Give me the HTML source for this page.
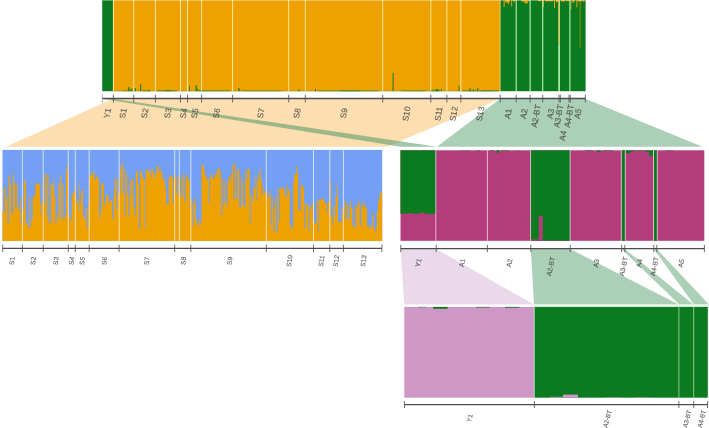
<!DOCTYPE html>
<html lang="en">
<head>
<meta charset="utf-8">
<title>Hierarchical STRUCTURE clustering plot</title>
<style>
html, body { margin: 0; padding: 0; background: #ffffff; }
body { width: 709px; height: 428px; overflow: hidden; }
svg { display: block; font-family: "Liberation Sans", sans-serif; }
</style>
</head>
<body>
<svg width="709" height="428" viewBox="0 0 709 428">
<rect x="0" y="0" width="709" height="428" fill="#ffffff"/>
<polygon points="113.10,98.70 500.20,98.70 387.00,146.80 6.00,146.80" fill="#F8B85A" fill-opacity="0.47"/>
<polygon points="102.20,98.70 113.10,98.70 437.00,146.80 400.60,146.80" fill="#479460" fill-opacity="0.52"/>
<polygon points="500.20,98.70 585.40,98.70 702.50,146.80 437.00,146.80" fill="#479460" fill-opacity="0.45"/>
<polygon points="400.70,249.00 436.20,249.00 534.00,304.60 404.20,304.60" fill="#C99AC9" fill-opacity="0.38"/>
<polygon points="530.80,249.00 570.20,249.00 678.70,304.60 534.00,304.60" fill="#479460" fill-opacity="0.45"/>
<polygon points="621.60,249.00 624.80,249.00 693.40,304.60 679.30,304.60" fill="#479460" fill-opacity="0.45"/>
<polygon points="653.80,249.00 656.80,249.00 709.00,304.60 694.00,304.60" fill="#479460" fill-opacity="0.45"/>
<rect x="102.20" y="0.00" width="10.90" height="91.20" fill="#0C7A1E"/>
<rect x="113.10" y="0.00" width="387.10" height="91.20" fill="#EDA202"/>
<rect x="500.00" y="0.00" width="85.60" height="91.20" fill="#0C7A1E"/>
<rect x="113.10" y="90.70" width="387.10" height="0.50" fill="#7d9015"/>
<rect x="122.50" y="90.40" width="3.00" height="0.80" fill="#5f8c1c"/>
<rect x="126.00" y="90.00" width="1.50" height="1.20" fill="#5f8c1c"/>
<rect x="128.20" y="87.20" width="1.20" height="4.00" fill="#0C7A1E"/>
<rect x="129.60" y="89.20" width="1.00" height="2.00" fill="#0C7A1E"/>
<rect x="131.40" y="88.20" width="1.00" height="3.00" fill="#0C7A1E"/>
<rect x="134.80" y="88.00" width="1.00" height="3.20" fill="#0C7A1E"/>
<rect x="140.20" y="84.20" width="1.00" height="7.00" fill="#0C7A1E"/>
<rect x="142.00" y="90.30" width="8.00" height="0.90" fill="#5f8c1c"/>
<rect x="148.00" y="89.90" width="2.00" height="1.30" fill="#5f8c1c"/>
<rect x="157.00" y="90.20" width="20.00" height="1.00" fill="#5f8c1c"/>
<rect x="165.00" y="89.70" width="6.00" height="1.50" fill="#5f8c1c"/>
<rect x="189.00" y="85.70" width="0.80" height="5.50" fill="#0C7A1E"/>
<rect x="195.60" y="85.20" width="1.20" height="6.00" fill="#0C7A1E"/>
<rect x="197.20" y="88.70" width="1.00" height="2.50" fill="#0C7A1E"/>
<rect x="199.00" y="90.00" width="6.00" height="1.20" fill="#5f8c1c"/>
<rect x="205.00" y="90.30" width="25.00" height="0.90" fill="#5f8c1c"/>
<rect x="238.40" y="88.00" width="1.20" height="3.20" fill="#0C7A1E"/>
<rect x="241.00" y="90.50" width="40.00" height="0.70" fill="#5f8c1c"/>
<rect x="298.50" y="89.20" width="1.00" height="2.00" fill="#0C7A1E"/>
<rect x="315.00" y="89.00" width="1.00" height="2.20" fill="#0C7A1E"/>
<rect x="318.00" y="90.40" width="60.00" height="0.80" fill="#5f8c1c"/>
<rect x="340.00" y="90.00" width="20.00" height="1.20" fill="#5f8c1c"/>
<rect x="392.60" y="72.80" width="1.00" height="18.40" fill="#0C7A1E"/>
<rect x="401.00" y="90.40" width="25.00" height="0.80" fill="#5f8c1c"/>
<rect x="430.00" y="89.80" width="10.00" height="1.40" fill="#5f8c1c"/>
<rect x="436.00" y="89.20" width="2.00" height="2.00" fill="#0C7A1E"/>
<rect x="441.00" y="89.00" width="1.00" height="2.20" fill="#0C7A1E"/>
<rect x="458.60" y="85.70" width="0.90" height="5.50" fill="#0C7A1E"/>
<rect x="462.00" y="90.40" width="30.00" height="0.80" fill="#5f8c1c"/>
<rect x="469.60" y="87.70" width="1.00" height="3.50" fill="#0C7A1E"/>
<rect x="473.00" y="89.20" width="1.00" height="2.00" fill="#0C7A1E"/>
<rect x="477.20" y="87.80" width="1.00" height="3.40" fill="#0C7A1E"/>
<rect x="481.00" y="90.20" width="18.00" height="1.00" fill="#5f8c1c"/>
<rect x="503.60" y="0.00" width="1.00" height="7.00" fill="#EDA202" fill-opacity="1"/>
<rect x="505.20" y="0.00" width="4.50" height="2.50" fill="#EDA202" fill-opacity="1"/>
<rect x="508.00" y="0.00" width="1.00" height="4.00" fill="#EDA202" fill-opacity="1"/>
<rect x="511.20" y="0.00" width="1.00" height="6.40" fill="#EDA202" fill-opacity="1"/>
<rect x="513.00" y="0.00" width="2.00" height="1.50" fill="#EDA202" fill-opacity="1"/>
<rect x="521.50" y="0.00" width="3.00" height="1.60" fill="#EDA202" fill-opacity="1"/>
<rect x="524.50" y="0.00" width="3.20" height="3.40" fill="#EDA202" fill-opacity="1"/>
<rect x="528.00" y="0.00" width="1.50" height="1.20" fill="#EDA202" fill-opacity="1"/>
<rect x="538.00" y="0.00" width="3.00" height="1.20" fill="#EDA202" fill-opacity="1"/>
<rect x="543.00" y="0.00" width="1.00" height="7.00" fill="#EDA202" fill-opacity="0.8"/>
<rect x="545.00" y="0.00" width="8.00" height="1.30" fill="#EDA202" fill-opacity="1"/>
<rect x="554.00" y="0.00" width="1.00" height="8.00" fill="#EDA202" fill-opacity="1"/>
<rect x="556.00" y="0.00" width="2.00" height="2.00" fill="#EDA202" fill-opacity="1"/>
<rect x="561.00" y="0.00" width="4.00" height="1.50" fill="#EDA202" fill-opacity="1"/>
<rect x="566.00" y="0.00" width="3.00" height="1.20" fill="#EDA202" fill-opacity="1"/>
<rect x="570.40" y="0.00" width="1.00" height="9.40" fill="#EDA202" fill-opacity="0.85"/>
<rect x="572.50" y="0.00" width="2.00" height="2.50" fill="#EDA202" fill-opacity="1"/>
<rect x="576.40" y="0.00" width="1.00" height="7.20" fill="#EDA202" fill-opacity="1"/>
<rect x="578.00" y="0.00" width="4.00" height="1.40" fill="#EDA202" fill-opacity="1"/>
<rect x="579.60" y="0.00" width="1.00" height="47.50" fill="#EDA202" fill-opacity="0.55"/>
<rect x="582.50" y="0.00" width="2.00" height="1.50" fill="#EDA202" fill-opacity="1"/>
<rect x="558.30" y="0.00" width="1.60" height="43.50" fill="#EBD873"/>
<rect x="558.30" y="43.50" width="1.60" height="47.70" fill="#B6F3B6"/>
<line x1="113.40" y1="0.00" x2="113.40" y2="91.20" stroke="#FFEFA8" stroke-width="0.9" stroke-opacity="1"/>
<line x1="133.70" y1="0.00" x2="133.70" y2="91.20" stroke="#FFEFA8" stroke-width="0.9" stroke-opacity="1"/>
<line x1="155.40" y1="0.00" x2="155.40" y2="91.20" stroke="#FFEFA8" stroke-width="0.9" stroke-opacity="1"/>
<line x1="180.50" y1="0.00" x2="180.50" y2="91.20" stroke="#FFEFA8" stroke-width="0.9" stroke-opacity="1"/>
<line x1="187.50" y1="0.00" x2="187.50" y2="91.20" stroke="#FFEFA8" stroke-width="0.9" stroke-opacity="1"/>
<line x1="201.60" y1="0.00" x2="201.60" y2="91.20" stroke="#FFEFA8" stroke-width="0.9" stroke-opacity="1"/>
<line x1="232.60" y1="0.00" x2="232.60" y2="91.20" stroke="#FFEFA8" stroke-width="0.9" stroke-opacity="1"/>
<line x1="288.70" y1="0.00" x2="288.70" y2="91.20" stroke="#FFEFA8" stroke-width="0.9" stroke-opacity="1"/>
<line x1="305.30" y1="0.00" x2="305.30" y2="91.20" stroke="#FFEFA8" stroke-width="0.9" stroke-opacity="1"/>
<line x1="382.70" y1="0.00" x2="382.70" y2="91.20" stroke="#FFEFA8" stroke-width="0.9" stroke-opacity="1"/>
<line x1="430.80" y1="0.00" x2="430.80" y2="91.20" stroke="#FFEFA8" stroke-width="0.9" stroke-opacity="1"/>
<line x1="446.90" y1="0.00" x2="446.90" y2="91.20" stroke="#FFEFA8" stroke-width="0.9" stroke-opacity="1"/>
<line x1="460.90" y1="0.00" x2="460.90" y2="91.20" stroke="#FFEFA8" stroke-width="0.9" stroke-opacity="1"/>
<line x1="500.20" y1="0.00" x2="500.20" y2="91.20" stroke="#F6E9A0" stroke-width="0.8" stroke-opacity="0.9"/>
<line x1="516.20" y1="0.00" x2="516.20" y2="91.20" stroke="#B6F3B6" stroke-width="1.1" stroke-opacity="1"/>
<line x1="530.10" y1="0.00" x2="530.10" y2="91.20" stroke="#B6F3B6" stroke-width="1.1" stroke-opacity="1"/>
<line x1="542.70" y1="0.00" x2="542.70" y2="91.20" stroke="#B6F3B6" stroke-width="1.1" stroke-opacity="1"/>
<line x1="569.90" y1="0.00" x2="569.90" y2="91.20" stroke="#B6F3B6" stroke-width="1.1" stroke-opacity="1"/>
<line x1="102.2" y1="0.5" x2="585.6" y2="0.5" stroke="#ffffff" stroke-width="1" stroke-opacity="0.35"/>
<line x1="102.20" y1="98.60" x2="585.40" y2="98.60" stroke="#4c4c4c" stroke-width="1.5"/>
<line x1="113.40" y1="94.70" x2="113.40" y2="102.50" stroke="#4c4c4c" stroke-width="0.8"/>
<line x1="133.70" y1="94.70" x2="133.70" y2="102.50" stroke="#4c4c4c" stroke-width="0.8"/>
<line x1="155.40" y1="94.70" x2="155.40" y2="102.50" stroke="#4c4c4c" stroke-width="0.8"/>
<line x1="180.50" y1="94.70" x2="180.50" y2="102.50" stroke="#4c4c4c" stroke-width="0.8"/>
<line x1="187.50" y1="94.70" x2="187.50" y2="102.50" stroke="#4c4c4c" stroke-width="0.8"/>
<line x1="201.60" y1="94.70" x2="201.60" y2="102.50" stroke="#4c4c4c" stroke-width="0.8"/>
<line x1="232.60" y1="94.70" x2="232.60" y2="102.50" stroke="#4c4c4c" stroke-width="0.8"/>
<line x1="288.70" y1="94.70" x2="288.70" y2="102.50" stroke="#4c4c4c" stroke-width="0.8"/>
<line x1="305.30" y1="94.70" x2="305.30" y2="102.50" stroke="#4c4c4c" stroke-width="0.8"/>
<line x1="382.70" y1="94.70" x2="382.70" y2="102.50" stroke="#4c4c4c" stroke-width="0.8"/>
<line x1="430.80" y1="94.70" x2="430.80" y2="102.50" stroke="#4c4c4c" stroke-width="0.8"/>
<line x1="446.90" y1="94.70" x2="446.90" y2="102.50" stroke="#4c4c4c" stroke-width="0.8"/>
<line x1="460.90" y1="94.70" x2="460.90" y2="102.50" stroke="#4c4c4c" stroke-width="0.8"/>
<line x1="500.20" y1="94.70" x2="500.20" y2="102.50" stroke="#4c4c4c" stroke-width="0.8"/>
<line x1="516.20" y1="94.70" x2="516.20" y2="102.50" stroke="#4c4c4c" stroke-width="0.8"/>
<line x1="530.10" y1="94.70" x2="530.10" y2="102.50" stroke="#4c4c4c" stroke-width="0.8"/>
<line x1="542.70" y1="94.70" x2="542.70" y2="102.50" stroke="#4c4c4c" stroke-width="0.8"/>
<line x1="559.00" y1="94.70" x2="559.00" y2="102.50" stroke="#4c4c4c" stroke-width="0.8"/>
<line x1="560.30" y1="94.70" x2="560.30" y2="102.50" stroke="#4c4c4c" stroke-width="0.8"/>
<line x1="569.00" y1="94.70" x2="569.00" y2="102.50" stroke="#4c4c4c" stroke-width="0.8"/>
<line x1="570.30" y1="94.70" x2="570.30" y2="102.50" stroke="#4c4c4c" stroke-width="0.8"/>
<line x1="585.30" y1="94.70" x2="585.30" y2="102.50" stroke="#4c4c4c" stroke-width="0.8"/>
<line x1="102.30" y1="94.70" x2="102.30" y2="102.60" stroke="#9a9eac" stroke-width="1"/>
<g fill="#303030" fill-opacity="0.72" stroke="#303030" stroke-opacity="0.72" stroke-width="0.12">
<text transform="translate(107.20 113.30) rotate(-80)" y="2.99" font-size="8.3" text-anchor="middle">Y1</text>
<text transform="translate(123.00 113.30) rotate(-80)" y="2.99" font-size="8.3" text-anchor="middle">S1</text>
<text transform="translate(144.60 113.30) rotate(-80)" y="2.99" font-size="8.3" text-anchor="middle">S2</text>
<text transform="translate(167.70 113.30) rotate(-80)" y="2.99" font-size="8.3" text-anchor="middle">S3</text>
<text transform="translate(183.40 113.30) rotate(-80)" y="2.99" font-size="8.3" text-anchor="middle">S4</text>
<text transform="translate(194.70 113.30) rotate(-80)" y="2.99" font-size="8.3" text-anchor="middle">S5</text>
<text transform="translate(216.50 113.30) rotate(-80)" y="2.99" font-size="8.3" text-anchor="middle">S6</text>
<text transform="translate(260.80 113.30) rotate(-80)" y="2.99" font-size="8.3" text-anchor="middle">S7</text>
<text transform="translate(297.00 113.30) rotate(-80)" y="2.99" font-size="8.3" text-anchor="middle">S8</text>
<text transform="translate(343.80 113.30) rotate(-80)" y="2.99" font-size="8.3" text-anchor="middle">S9</text>
<text transform="translate(406.30 113.80) rotate(-80)" y="2.99" font-size="8.3" text-anchor="middle">S10</text>
<text transform="translate(438.40 113.80) rotate(-80)" y="2.99" font-size="8.3" text-anchor="middle">S11</text>
<text transform="translate(453.60 113.80) rotate(-80)" y="2.99" font-size="8.3" text-anchor="middle">S12</text>
<text transform="translate(480.20 113.80) rotate(-80)" y="2.99" font-size="8.3" text-anchor="middle">S13</text>
<text transform="translate(508.00 113.70) rotate(-80)" y="2.99" font-size="8.3" text-anchor="middle">A1</text>
<text transform="translate(523.60 113.70) rotate(-80)" y="2.99" font-size="8.3" text-anchor="middle">A2</text>
<text transform="translate(535.80 116.00) rotate(-80)" y="2.99" font-size="8.3" text-anchor="middle">A2-BT</text>
<text transform="translate(550.50 113.70) rotate(-80)" y="2.99" font-size="8.3" text-anchor="middle">A3</text>
<text transform="translate(558.40 116.00) rotate(-80)" y="2.99" font-size="8.3" text-anchor="middle">A3-BT</text>
<text transform="translate(562.60 135.70) rotate(-80)" y="2.99" font-size="8.3" text-anchor="middle">A4</text>
<text transform="translate(568.80 116.00) rotate(-80)" y="2.99" font-size="8.3" text-anchor="middle">A4-BT</text>
<text transform="translate(577.80 113.70) rotate(-80)" y="2.99" font-size="8.3" text-anchor="middle">A5</text>
</g>
<rect x="2.50" y="149.90" width="379.70" height="91.10" fill="#73A0F4"/>
<rect x="2.50" y="211.29" width="0.50" height="29.71" fill="#EDA202"/>
<rect x="3.00" y="211.29" width="1.00" height="29.71" fill="#EDA202"/>
<rect x="3.00" y="187.61" width="1.00" height="23.68" fill="#A4A193"/>
<rect x="4.00" y="212.02" width="1.00" height="28.98" fill="#EDA202"/>
<rect x="4.00" y="187.61" width="1.00" height="24.41" fill="#A4A193"/>
<rect x="5.00" y="212.02" width="1.00" height="28.98" fill="#EDA202"/>
<rect x="5.00" y="187.18" width="1.00" height="24.84" fill="#D5A232"/>
<rect x="6.00" y="197.49" width="1.00" height="43.51" fill="#EDA202"/>
<rect x="6.00" y="187.18" width="1.00" height="10.31" fill="#8BA0C4"/>
<rect x="7.00" y="223.11" width="1.00" height="17.89" fill="#EDA202"/>
<rect x="7.00" y="197.49" width="1.00" height="25.61" fill="#AAA187"/>
<rect x="8.00" y="223.11" width="1.00" height="17.89" fill="#EDA202"/>
<rect x="8.00" y="176.10" width="1.00" height="47.01" fill="#85A0D0"/>
<rect x="9.00" y="176.10" width="1.00" height="64.90" fill="#EDA202"/>
<rect x="10.00" y="183.71" width="1.00" height="57.29" fill="#EDA202"/>
<rect x="10.00" y="176.10" width="1.00" height="7.61" fill="#7FA0DC"/>
<rect x="11.00" y="212.76" width="1.00" height="28.24" fill="#EDA202"/>
<rect x="11.00" y="183.71" width="1.00" height="29.05" fill="#7FA0DC"/>
<rect x="12.00" y="214.50" width="1.00" height="26.50" fill="#EDA202"/>
<rect x="12.00" y="212.76" width="1.00" height="1.74" fill="#8BA0C4"/>
<rect x="12.00" y="173.78" width="1.00" height="38.98" fill="#7FA0DC"/>
<rect x="13.00" y="173.78" width="1.00" height="67.22" fill="#EDA202"/>
<rect x="14.00" y="182.60" width="1.00" height="58.40" fill="#EDA202"/>
<rect x="15.00" y="207.47" width="1.00" height="33.53" fill="#EDA202"/>
<rect x="15.00" y="182.60" width="1.00" height="24.87" fill="#A4A193"/>
<rect x="16.00" y="207.47" width="1.00" height="33.53" fill="#EDA202"/>
<rect x="16.00" y="183.63" width="1.00" height="23.84" fill="#8BA0C4"/>
<rect x="17.00" y="205.08" width="1.00" height="35.92" fill="#EDA202"/>
<rect x="17.00" y="183.63" width="1.00" height="21.45" fill="#E1A21A"/>
<rect x="18.00" y="210.52" width="1.00" height="30.48" fill="#EDA202"/>
<rect x="18.00" y="205.08" width="1.00" height="5.44" fill="#E1A21A"/>
<rect x="19.00" y="210.52" width="1.00" height="30.48" fill="#EDA202"/>
<rect x="20.00" y="223.27" width="1.00" height="17.73" fill="#EDA202"/>
<rect x="20.00" y="197.66" width="1.00" height="25.61" fill="#D5A232"/>
<rect x="21.00" y="223.27" width="1.00" height="17.73" fill="#EDA202"/>
<rect x="21.00" y="212.52" width="1.00" height="10.75" fill="#8BA0C4"/>
<rect x="22.00" y="212.52" width="1.00" height="28.48" fill="#EDA202"/>
<rect x="22.00" y="208.53" width="1.00" height="3.98" fill="#A4A193"/>
<rect x="23.00" y="208.53" width="1.00" height="32.47" fill="#EDA202"/>
<rect x="23.00" y="180.39" width="1.00" height="28.14" fill="#98A1AB"/>
<rect x="24.00" y="181.55" width="1.00" height="59.45" fill="#EDA202"/>
<rect x="24.00" y="180.39" width="1.00" height="1.17" fill="#E7A20E"/>
<rect x="25.00" y="223.74" width="1.00" height="17.26" fill="#EDA202"/>
<rect x="25.00" y="181.55" width="1.00" height="42.19" fill="#CFA23E"/>
<rect x="26.00" y="223.74" width="1.00" height="17.26" fill="#EDA202"/>
<rect x="26.00" y="222.56" width="1.00" height="1.18" fill="#85A0D0"/>
<rect x="27.00" y="222.56" width="1.00" height="18.44" fill="#EDA202"/>
<rect x="28.00" y="227.61" width="1.00" height="13.39" fill="#EDA202"/>
<rect x="28.00" y="222.56" width="1.00" height="5.05" fill="#7FA0DC"/>
<rect x="29.00" y="227.61" width="1.00" height="13.39" fill="#EDA202"/>
<rect x="29.00" y="197.26" width="1.00" height="30.35" fill="#C2A157"/>
<rect x="30.00" y="225.68" width="1.00" height="15.32" fill="#EDA202"/>
<rect x="30.00" y="197.26" width="1.00" height="28.41" fill="#AAA187"/>
<rect x="31.00" y="225.68" width="1.00" height="15.32" fill="#EDA202"/>
<rect x="31.00" y="218.78" width="1.00" height="6.90" fill="#B6A16F"/>
<rect x="32.00" y="218.78" width="1.00" height="22.22" fill="#EDA202"/>
<rect x="32.00" y="196.37" width="1.00" height="22.41" fill="#98A1AB"/>
<rect x="33.00" y="196.37" width="1.00" height="44.63" fill="#EDA202"/>
<rect x="33.00" y="195.46" width="1.00" height="0.91" fill="#79A0E8"/>
<rect x="34.00" y="195.46" width="1.00" height="45.54" fill="#EDA202"/>
<rect x="35.00" y="195.46" width="1.00" height="45.54" fill="#EDA202"/>
<rect x="35.00" y="184.88" width="1.00" height="10.58" fill="#D5A232"/>
<rect x="36.00" y="184.88" width="1.00" height="56.12" fill="#EDA202"/>
<rect x="36.00" y="183.09" width="1.00" height="1.79" fill="#D5A232"/>
<rect x="37.00" y="183.95" width="1.00" height="57.05" fill="#EDA202"/>
<rect x="37.00" y="183.09" width="1.00" height="0.86" fill="#BCA163"/>
<rect x="38.00" y="184.22" width="1.00" height="56.78" fill="#EDA202"/>
<rect x="39.00" y="184.22" width="1.00" height="56.78" fill="#EDA202"/>
<rect x="40.00" y="202.87" width="1.00" height="38.13" fill="#EDA202"/>
<rect x="40.00" y="184.22" width="1.00" height="18.65" fill="#7FA0DC"/>
<rect x="41.00" y="213.79" width="1.00" height="27.21" fill="#EDA202"/>
<rect x="41.00" y="202.87" width="1.00" height="10.91" fill="#8BA0C4"/>
<rect x="41.00" y="201.13" width="1.00" height="1.75" fill="#7FA0DC"/>
<rect x="42.00" y="201.13" width="1.00" height="39.87" fill="#EDA202"/>
<rect x="43.00" y="201.13" width="1.00" height="39.87" fill="#EDA202"/>
<rect x="43.00" y="177.81" width="1.00" height="23.31" fill="#C8A14B"/>
<rect x="44.00" y="204.09" width="1.00" height="36.91" fill="#EDA202"/>
<rect x="44.00" y="177.81" width="1.00" height="26.27" fill="#7FA0DC"/>
<rect x="45.00" y="204.09" width="1.00" height="36.91" fill="#EDA202"/>
<rect x="45.00" y="174.14" width="1.00" height="29.95" fill="#E1A21A"/>
<rect x="46.00" y="215.99" width="1.00" height="25.01" fill="#EDA202"/>
<rect x="46.00" y="174.14" width="1.00" height="41.84" fill="#B0A17B"/>
<rect x="47.00" y="215.99" width="1.00" height="25.01" fill="#EDA202"/>
<rect x="47.00" y="174.66" width="1.00" height="41.33" fill="#C8A14B"/>
<rect x="48.00" y="221.12" width="1.00" height="19.88" fill="#EDA202"/>
<rect x="48.00" y="174.66" width="1.00" height="46.46" fill="#B6A16F"/>
<rect x="49.00" y="224.02" width="1.00" height="16.98" fill="#EDA202"/>
<rect x="49.00" y="221.12" width="1.00" height="2.90" fill="#C2A157"/>
<rect x="50.00" y="224.02" width="1.00" height="16.98" fill="#EDA202"/>
<rect x="50.00" y="183.99" width="1.00" height="40.03" fill="#7FA0DC"/>
<rect x="51.00" y="183.99" width="1.00" height="57.01" fill="#EDA202"/>
<rect x="52.00" y="186.88" width="1.00" height="54.12" fill="#EDA202"/>
<rect x="52.00" y="183.99" width="1.00" height="2.89" fill="#85A0D0"/>
<rect x="53.00" y="186.88" width="1.00" height="54.12" fill="#EDA202"/>
<rect x="53.00" y="180.18" width="1.00" height="6.70" fill="#CEA23E"/>
<rect x="54.00" y="195.17" width="1.00" height="45.83" fill="#EDA202"/>
<rect x="54.00" y="180.18" width="1.00" height="14.99" fill="#92A0B8"/>
<rect x="55.00" y="223.11" width="1.00" height="17.89" fill="#EDA202"/>
<rect x="55.00" y="195.17" width="1.00" height="27.94" fill="#9EA19F"/>
<rect x="56.00" y="223.11" width="1.00" height="17.89" fill="#EDA202"/>
<rect x="56.00" y="213.61" width="1.00" height="9.50" fill="#92A0B8"/>
<rect x="57.00" y="217.89" width="1.00" height="23.11" fill="#EDA202"/>
<rect x="57.00" y="213.61" width="1.00" height="4.28" fill="#B6A16F"/>
<rect x="58.00" y="217.89" width="1.00" height="23.11" fill="#EDA202"/>
<rect x="58.00" y="182.93" width="1.00" height="34.96" fill="#9EA19F"/>
<rect x="59.00" y="182.93" width="1.00" height="58.07" fill="#EDA202"/>
<rect x="60.00" y="182.93" width="1.00" height="58.07" fill="#EDA202"/>
<rect x="60.00" y="174.77" width="1.00" height="8.15" fill="#E7A20E"/>
<rect x="61.00" y="218.25" width="1.00" height="22.75" fill="#EDA202"/>
<rect x="61.00" y="174.77" width="1.00" height="43.48" fill="#79A0E8"/>
<rect x="62.00" y="218.25" width="1.00" height="22.75" fill="#EDA202"/>
<rect x="62.00" y="184.12" width="1.00" height="34.13" fill="#E7A20E"/>
<rect x="63.00" y="218.77" width="1.00" height="22.23" fill="#EDA202"/>
<rect x="63.00" y="184.12" width="1.00" height="34.36" fill="#79A0E8"/>
<rect x="64.00" y="218.77" width="1.00" height="22.23" fill="#EDA202"/>
<rect x="64.00" y="214.61" width="1.00" height="4.16" fill="#85A0D0"/>
<rect x="65.00" y="214.61" width="1.00" height="26.39" fill="#EDA202"/>
<rect x="65.00" y="171.97" width="1.00" height="42.64" fill="#79A0E8"/>
<rect x="66.00" y="171.97" width="1.00" height="69.03" fill="#EDA202"/>
<rect x="66.00" y="165.03" width="1.00" height="6.94" fill="#79A0E8"/>
<rect x="67.00" y="165.03" width="1.00" height="75.97" fill="#EDA202"/>
<rect x="68.00" y="217.53" width="1.00" height="23.47" fill="#EDA202"/>
<rect x="68.00" y="165.03" width="1.00" height="52.50" fill="#8BA0C4"/>
<rect x="69.00" y="217.53" width="1.00" height="23.47" fill="#EDA202"/>
<rect x="69.00" y="213.64" width="1.00" height="3.89" fill="#A4A193"/>
<rect x="70.00" y="220.67" width="1.00" height="20.33" fill="#EDA202"/>
<rect x="70.00" y="213.64" width="1.00" height="7.03" fill="#A4A193"/>
<rect x="71.00" y="220.67" width="1.00" height="20.33" fill="#EDA202"/>
<rect x="71.00" y="195.32" width="1.00" height="25.35" fill="#9EA19F"/>
<rect x="72.00" y="195.32" width="1.00" height="45.68" fill="#EDA202"/>
<rect x="72.00" y="192.19" width="1.00" height="3.13" fill="#92A1B7"/>
<rect x="73.00" y="192.19" width="1.00" height="48.81" fill="#EDA202"/>
<rect x="74.00" y="191.39" width="1.00" height="49.61" fill="#EDA202"/>
<rect x="75.00" y="183.36" width="1.00" height="57.64" fill="#EDA202"/>
<rect x="76.00" y="203.26" width="1.00" height="37.74" fill="#EDA202"/>
<rect x="77.00" y="200.21" width="1.00" height="40.79" fill="#EDA202"/>
<rect x="78.00" y="210.29" width="1.00" height="30.71" fill="#EDA202"/>
<rect x="78.00" y="200.21" width="1.00" height="10.09" fill="#91A0B8"/>
<rect x="79.00" y="210.29" width="1.00" height="30.71" fill="#EDA202"/>
<rect x="79.00" y="203.80" width="1.00" height="6.49" fill="#E7A20E"/>
<rect x="79.00" y="183.94" width="1.00" height="19.86" fill="#D5A232"/>
<rect x="80.00" y="203.80" width="1.00" height="37.20" fill="#EDA202"/>
<rect x="80.00" y="193.08" width="1.00" height="10.72" fill="#85A0D0"/>
<rect x="81.00" y="193.08" width="1.00" height="47.92" fill="#EDA202"/>
<rect x="81.00" y="188.98" width="1.00" height="4.10" fill="#79A0E8"/>
<rect x="82.00" y="188.98" width="1.00" height="52.02" fill="#EDA202"/>
<rect x="83.00" y="215.92" width="1.00" height="25.08" fill="#EDA202"/>
<rect x="83.00" y="188.98" width="1.00" height="26.93" fill="#79A0E8"/>
<rect x="84.00" y="219.73" width="1.00" height="21.27" fill="#EDA202"/>
<rect x="84.00" y="215.92" width="1.00" height="3.81" fill="#98A1AB"/>
<rect x="85.00" y="219.73" width="1.00" height="21.27" fill="#EDA202"/>
<rect x="85.00" y="208.31" width="1.00" height="11.42" fill="#98A1AB"/>
<rect x="86.00" y="208.31" width="1.00" height="32.69" fill="#EDA202"/>
<rect x="87.00" y="227.46" width="1.00" height="13.54" fill="#EDA202"/>
<rect x="87.00" y="208.31" width="1.00" height="19.14" fill="#7FA0DC"/>
<rect x="88.00" y="227.46" width="1.00" height="13.54" fill="#EDA202"/>
<rect x="88.00" y="201.54" width="1.00" height="25.92" fill="#C2A157"/>
<rect x="89.00" y="201.54" width="1.00" height="39.46" fill="#EDA202"/>
<rect x="89.00" y="173.77" width="1.00" height="27.77" fill="#C2A157"/>
<rect x="90.00" y="175.53" width="1.00" height="65.47" fill="#EDA202"/>
<rect x="90.00" y="173.77" width="1.00" height="1.76" fill="#CEA13F"/>
<rect x="91.00" y="175.53" width="1.00" height="65.47" fill="#EDA202"/>
<rect x="92.00" y="175.53" width="1.00" height="65.47" fill="#EDA202"/>
<rect x="92.00" y="173.02" width="1.00" height="2.50" fill="#DBA226"/>
<rect x="93.00" y="173.02" width="1.00" height="67.98" fill="#EDA202"/>
<rect x="93.00" y="171.66" width="1.00" height="1.36" fill="#AAA187"/>
<rect x="94.00" y="179.52" width="1.00" height="61.48" fill="#EDA202"/>
<rect x="94.00" y="171.66" width="1.00" height="7.85" fill="#B6A16F"/>
<rect x="95.00" y="179.52" width="1.00" height="61.48" fill="#EDA202"/>
<rect x="95.00" y="177.28" width="1.00" height="2.24" fill="#79A0E8"/>
<rect x="96.00" y="177.28" width="1.00" height="63.72" fill="#EDA202"/>
<rect x="96.00" y="176.34" width="1.00" height="0.94" fill="#92A0B8"/>
<rect x="97.00" y="176.34" width="1.00" height="64.66" fill="#EDA202"/>
<rect x="98.00" y="179.58" width="1.00" height="61.42" fill="#EDA202"/>
<rect x="98.00" y="176.34" width="1.00" height="3.24" fill="#85A0D0"/>
<rect x="99.00" y="217.96" width="1.00" height="23.04" fill="#EDA202"/>
<rect x="99.00" y="179.58" width="1.00" height="38.38" fill="#92A0B8"/>
<rect x="100.00" y="217.96" width="1.00" height="23.04" fill="#EDA202"/>
<rect x="100.00" y="211.46" width="1.00" height="6.50" fill="#CEA23E"/>
<rect x="101.00" y="211.46" width="1.00" height="29.54" fill="#EDA202"/>
<rect x="101.00" y="183.99" width="1.00" height="27.47" fill="#C2A157"/>
<rect x="102.00" y="183.99" width="1.00" height="57.01" fill="#EDA202"/>
<rect x="102.00" y="183.04" width="1.00" height="0.95" fill="#A4A193"/>
<rect x="103.00" y="206.06" width="1.00" height="34.94" fill="#EDA202"/>
<rect x="103.00" y="183.04" width="1.00" height="23.02" fill="#DBA226"/>
<rect x="104.00" y="206.06" width="1.00" height="34.94" fill="#EDA202"/>
<rect x="104.00" y="201.88" width="1.00" height="4.18" fill="#85A0D0"/>
<rect x="105.00" y="201.88" width="1.00" height="39.12" fill="#EDA202"/>
<rect x="105.00" y="194.66" width="1.00" height="7.22" fill="#85A0D0"/>
<rect x="106.00" y="195.47" width="1.00" height="45.53" fill="#EDA202"/>
<rect x="106.00" y="194.66" width="1.00" height="0.82" fill="#DBA226"/>
<rect x="107.00" y="195.47" width="1.00" height="45.53" fill="#EDA202"/>
<rect x="107.00" y="194.26" width="1.00" height="1.21" fill="#9EA19F"/>
<rect x="108.00" y="202.17" width="1.00" height="38.83" fill="#EDA202"/>
<rect x="108.00" y="194.26" width="1.00" height="7.91" fill="#C2A157"/>
<rect x="109.00" y="202.17" width="1.00" height="38.83" fill="#EDA202"/>
<rect x="109.00" y="201.34" width="1.00" height="0.83" fill="#7FA0DC"/>
<rect x="110.00" y="201.34" width="1.00" height="39.66" fill="#EDA202"/>
<rect x="110.00" y="200.33" width="1.00" height="1.01" fill="#98A1AB"/>
<rect x="111.00" y="200.33" width="1.00" height="40.67" fill="#EDA202"/>
<rect x="112.00" y="218.44" width="1.00" height="22.56" fill="#EDA202"/>
<rect x="112.00" y="200.33" width="1.00" height="18.11" fill="#7FA0DC"/>
<rect x="113.00" y="218.44" width="1.00" height="22.56" fill="#EDA202"/>
<rect x="113.00" y="197.32" width="1.00" height="21.13" fill="#B0A17B"/>
<rect x="114.00" y="197.32" width="1.00" height="43.68" fill="#EDA202"/>
<rect x="114.00" y="188.95" width="1.00" height="8.37" fill="#C8A14B"/>
<rect x="115.00" y="188.95" width="1.00" height="52.05" fill="#EDA202"/>
<rect x="115.00" y="178.04" width="1.00" height="10.91" fill="#E1A21A"/>
<rect x="116.00" y="209.70" width="1.00" height="31.30" fill="#EDA202"/>
<rect x="116.00" y="178.04" width="1.00" height="31.66" fill="#8BA0C4"/>
<rect x="117.00" y="209.70" width="1.00" height="31.30" fill="#EDA202"/>
<rect x="117.00" y="178.89" width="1.00" height="30.81" fill="#D5A232"/>
<rect x="118.00" y="193.27" width="1.00" height="47.73" fill="#EDA202"/>
<rect x="118.00" y="178.89" width="1.00" height="14.39" fill="#98A1AB"/>
<rect x="119.00" y="193.27" width="1.00" height="47.73" fill="#EDA202"/>
<rect x="119.00" y="192.61" width="1.00" height="0.66" fill="#AAA187"/>
<rect x="120.00" y="192.61" width="1.00" height="48.39" fill="#EDA202"/>
<rect x="120.00" y="169.05" width="1.00" height="23.56" fill="#C2A157"/>
<rect x="121.00" y="169.05" width="1.00" height="71.95" fill="#EDA202"/>
<rect x="121.00" y="165.00" width="1.00" height="4.05" fill="#DBA226"/>
<rect x="122.00" y="165.00" width="1.00" height="76.00" fill="#EDA202"/>
<rect x="122.00" y="162.75" width="1.00" height="2.25" fill="#CFA23E"/>
<rect x="123.00" y="192.54" width="1.00" height="48.46" fill="#EDA202"/>
<rect x="123.00" y="162.75" width="1.00" height="29.79" fill="#79A0E8"/>
<rect x="124.00" y="216.17" width="1.00" height="24.83" fill="#EDA202"/>
<rect x="124.00" y="192.54" width="1.00" height="23.63" fill="#E7A20E"/>
<rect x="124.00" y="169.26" width="1.00" height="23.28" fill="#D5A232"/>
<rect x="125.00" y="216.17" width="1.00" height="24.83" fill="#EDA202"/>
<rect x="125.00" y="174.10" width="1.00" height="42.07" fill="#79A0E8"/>
<rect x="126.00" y="174.10" width="1.00" height="66.90" fill="#EDA202"/>
<rect x="127.00" y="194.00" width="1.00" height="47.00" fill="#EDA202"/>
<rect x="127.00" y="174.10" width="1.00" height="19.90" fill="#79A0E8"/>
<rect x="128.00" y="216.22" width="1.00" height="24.78" fill="#EDA202"/>
<rect x="128.00" y="194.00" width="1.00" height="22.22" fill="#AAA187"/>
<rect x="129.00" y="216.22" width="1.00" height="24.78" fill="#EDA202"/>
<rect x="129.00" y="177.58" width="1.00" height="38.64" fill="#AAA187"/>
<rect x="130.00" y="181.10" width="1.00" height="59.90" fill="#EDA202"/>
<rect x="130.00" y="177.58" width="1.00" height="3.52" fill="#9EA19F"/>
<rect x="131.00" y="196.97" width="1.00" height="44.03" fill="#EDA202"/>
<rect x="131.00" y="181.10" width="1.00" height="15.87" fill="#9EA19F"/>
<rect x="132.00" y="196.97" width="1.00" height="44.03" fill="#EDA202"/>
<rect x="132.00" y="178.70" width="1.00" height="18.27" fill="#C2A157"/>
<rect x="133.00" y="207.15" width="1.00" height="33.85" fill="#EDA202"/>
<rect x="133.00" y="178.70" width="1.00" height="28.45" fill="#BCA163"/>
<rect x="134.00" y="215.37" width="1.00" height="25.63" fill="#EDA202"/>
<rect x="134.00" y="207.15" width="1.00" height="8.22" fill="#DBA226"/>
<rect x="135.00" y="215.37" width="1.00" height="25.63" fill="#EDA202"/>
<rect x="135.00" y="171.18" width="1.00" height="44.19" fill="#85A0D0"/>
<rect x="136.00" y="171.77" width="1.00" height="69.23" fill="#EDA202"/>
<rect x="136.00" y="171.18" width="1.00" height="0.59" fill="#DBA226"/>
<rect x="137.00" y="183.53" width="1.00" height="57.47" fill="#EDA202"/>
<rect x="137.00" y="171.77" width="1.00" height="11.76" fill="#DBA226"/>
<rect x="138.00" y="228.50" width="1.00" height="12.50" fill="#EDA202"/>
<rect x="138.00" y="183.53" width="1.00" height="44.98" fill="#E7A20E"/>
<rect x="139.00" y="228.50" width="1.00" height="12.50" fill="#EDA202"/>
<rect x="140.00" y="228.50" width="1.00" height="12.50" fill="#EDA202"/>
<rect x="140.00" y="169.94" width="1.00" height="58.56" fill="#D5A232"/>
<rect x="141.00" y="172.81" width="1.00" height="68.19" fill="#EDA202"/>
<rect x="141.00" y="169.94" width="1.00" height="2.86" fill="#98A1AB"/>
<rect x="142.00" y="177.17" width="1.00" height="63.83" fill="#EDA202"/>
<rect x="142.00" y="172.81" width="1.00" height="4.36" fill="#98A1AB"/>
<rect x="143.00" y="179.09" width="1.00" height="61.91" fill="#EDA202"/>
<rect x="143.00" y="177.17" width="1.00" height="1.92" fill="#B6A16F"/>
<rect x="144.00" y="228.02" width="1.00" height="12.98" fill="#EDA202"/>
<rect x="144.00" y="179.09" width="1.00" height="48.93" fill="#E7A20E"/>
<rect x="145.00" y="228.02" width="1.00" height="12.98" fill="#EDA202"/>
<rect x="145.00" y="169.59" width="1.00" height="58.43" fill="#92A1B7"/>
<rect x="146.00" y="169.59" width="1.00" height="71.41" fill="#EDA202"/>
<rect x="147.00" y="169.60" width="1.00" height="71.40" fill="#EDA202"/>
<rect x="148.00" y="173.04" width="1.00" height="67.96" fill="#EDA202"/>
<rect x="148.00" y="171.26" width="1.00" height="1.77" fill="#8BA0C4"/>
<rect x="148.00" y="169.60" width="1.00" height="1.66" fill="#7FA0DC"/>
<rect x="149.00" y="171.26" width="1.00" height="69.74" fill="#EDA202"/>
<rect x="149.00" y="169.21" width="1.00" height="2.05" fill="#98A1AB"/>
<rect x="150.00" y="176.49" width="1.00" height="64.51" fill="#EDA202"/>
<rect x="150.00" y="169.21" width="1.00" height="7.28" fill="#D5A232"/>
<rect x="151.00" y="176.49" width="1.00" height="64.51" fill="#EDA202"/>
<rect x="151.00" y="168.79" width="1.00" height="7.70" fill="#8BA0C4"/>
<rect x="152.00" y="172.26" width="1.00" height="68.74" fill="#EDA202"/>
<rect x="152.00" y="168.79" width="1.00" height="3.47" fill="#D5A232"/>
<rect x="153.00" y="172.26" width="1.00" height="68.74" fill="#EDA202"/>
<rect x="154.00" y="178.03" width="1.00" height="62.97" fill="#EDA202"/>
<rect x="154.00" y="172.26" width="1.00" height="5.77" fill="#8BA0C4"/>
<rect x="155.00" y="178.03" width="1.00" height="62.97" fill="#EDA202"/>
<rect x="155.00" y="173.28" width="1.00" height="4.75" fill="#D5A232"/>
<rect x="156.00" y="173.28" width="1.00" height="67.72" fill="#EDA202"/>
<rect x="156.00" y="165.74" width="1.00" height="7.54" fill="#A4A193"/>
<rect x="157.00" y="165.74" width="1.00" height="75.26" fill="#EDA202"/>
<rect x="158.00" y="170.46" width="1.00" height="70.54" fill="#EDA202"/>
<rect x="159.00" y="170.46" width="1.00" height="70.54" fill="#EDA202"/>
<rect x="159.00" y="166.57" width="1.00" height="3.89" fill="#BCA163"/>
<rect x="160.00" y="169.72" width="1.00" height="71.28" fill="#EDA202"/>
<rect x="160.00" y="166.57" width="1.00" height="3.15" fill="#8BA0C4"/>
<rect x="161.00" y="179.25" width="1.00" height="61.75" fill="#EDA202"/>
<rect x="161.00" y="169.72" width="1.00" height="9.53" fill="#BCA163"/>
<rect x="162.00" y="179.25" width="1.00" height="61.75" fill="#EDA202"/>
<rect x="162.00" y="173.92" width="1.00" height="5.32" fill="#A4A193"/>
<rect x="163.00" y="178.73" width="1.00" height="62.27" fill="#EDA202"/>
<rect x="163.00" y="173.92" width="1.00" height="4.81" fill="#A4A193"/>
<rect x="164.00" y="183.75" width="1.00" height="57.25" fill="#EDA202"/>
<rect x="164.00" y="178.73" width="1.00" height="5.02" fill="#C2A157"/>
<rect x="165.00" y="189.15" width="1.00" height="51.85" fill="#EDA202"/>
<rect x="165.00" y="183.75" width="1.00" height="5.40" fill="#AAA187"/>
<rect x="166.00" y="203.23" width="1.00" height="37.77" fill="#EDA202"/>
<rect x="166.00" y="189.15" width="1.00" height="14.08" fill="#92A1B7"/>
<rect x="167.00" y="204.91" width="1.00" height="36.09" fill="#EDA202"/>
<rect x="167.00" y="203.30" width="1.00" height="1.61" fill="#8BA0C4"/>
<rect x="168.00" y="203.30" width="1.00" height="37.70" fill="#EDA202"/>
<rect x="168.00" y="177.52" width="1.00" height="25.78" fill="#9EA19F"/>
<rect x="169.00" y="177.52" width="1.00" height="63.48" fill="#EDA202"/>
<rect x="169.00" y="175.69" width="1.00" height="1.83" fill="#7FA0DC"/>
<rect x="170.00" y="175.69" width="1.00" height="65.31" fill="#EDA202"/>
<rect x="171.00" y="177.28" width="1.00" height="63.72" fill="#EDA202"/>
<rect x="171.00" y="175.69" width="1.00" height="1.59" fill="#E7A20E"/>
<rect x="172.00" y="203.39" width="1.00" height="37.61" fill="#EDA202"/>
<rect x="172.00" y="177.28" width="1.00" height="26.12" fill="#E7A20E"/>
<rect x="173.00" y="203.39" width="1.00" height="37.61" fill="#EDA202"/>
<rect x="174.00" y="203.39" width="1.00" height="37.61" fill="#EDA202"/>
<rect x="174.00" y="173.28" width="1.00" height="30.11" fill="#E7A20E"/>
<rect x="175.00" y="178.77" width="1.00" height="62.23" fill="#EDA202"/>
<rect x="175.00" y="173.28" width="1.00" height="5.49" fill="#98A1AB"/>
<rect x="176.00" y="193.83" width="1.00" height="47.17" fill="#EDA202"/>
<rect x="176.00" y="178.77" width="1.00" height="15.06" fill="#98A1AB"/>
<rect x="177.00" y="193.83" width="1.00" height="47.17" fill="#EDA202"/>
<rect x="177.00" y="175.87" width="1.00" height="17.96" fill="#BCA163"/>
<rect x="178.00" y="192.43" width="1.00" height="48.57" fill="#EDA202"/>
<rect x="178.00" y="175.87" width="1.00" height="16.56" fill="#D5A232"/>
<rect x="179.00" y="197.46" width="1.00" height="43.54" fill="#EDA202"/>
<rect x="179.00" y="192.43" width="1.00" height="5.03" fill="#BCA163"/>
<rect x="180.00" y="197.46" width="1.00" height="43.54" fill="#EDA202"/>
<rect x="180.00" y="177.77" width="1.00" height="19.69" fill="#85A0D0"/>
<rect x="181.00" y="195.58" width="1.00" height="45.42" fill="#EDA202"/>
<rect x="181.00" y="177.77" width="1.00" height="17.81" fill="#DBA226"/>
<rect x="182.00" y="195.58" width="1.00" height="45.42" fill="#EDA202"/>
<rect x="182.00" y="174.22" width="1.00" height="21.36" fill="#79A0E8"/>
<rect x="183.00" y="174.22" width="1.00" height="66.78" fill="#EDA202"/>
<rect x="184.00" y="202.05" width="1.00" height="38.95" fill="#EDA202"/>
<rect x="184.00" y="174.22" width="1.00" height="27.83" fill="#9EA19F"/>
<rect x="185.00" y="202.05" width="1.00" height="38.95" fill="#EDA202"/>
<rect x="185.00" y="178.91" width="1.00" height="23.14" fill="#A4A193"/>
<rect x="186.00" y="178.91" width="1.00" height="62.09" fill="#EDA202"/>
<rect x="186.00" y="175.56" width="1.00" height="3.35" fill="#BCA163"/>
<rect x="187.00" y="177.91" width="1.00" height="63.09" fill="#EDA202"/>
<rect x="187.00" y="175.56" width="1.00" height="2.35" fill="#C2A157"/>
<rect x="188.00" y="180.68" width="1.00" height="60.32" fill="#EDA202"/>
<rect x="188.00" y="177.91" width="1.00" height="2.76" fill="#C2A157"/>
<rect x="189.00" y="207.29" width="1.00" height="33.71" fill="#EDA202"/>
<rect x="189.00" y="180.68" width="1.00" height="26.61" fill="#CFA23E"/>
<rect x="190.00" y="207.29" width="1.00" height="33.71" fill="#EDA202"/>
<rect x="190.00" y="198.92" width="1.00" height="8.36" fill="#85A0D0"/>
<rect x="191.00" y="202.05" width="1.00" height="38.95" fill="#EDA202"/>
<rect x="191.00" y="198.92" width="1.00" height="3.12" fill="#E7A20E"/>
<rect x="192.00" y="224.55" width="1.00" height="16.45" fill="#EDA202"/>
<rect x="192.00" y="202.05" width="1.00" height="22.50" fill="#CFA23E"/>
<rect x="193.00" y="224.55" width="1.00" height="16.45" fill="#EDA202"/>
<rect x="193.00" y="202.41" width="1.00" height="22.13" fill="#85A0D0"/>
<rect x="194.00" y="202.41" width="1.00" height="38.59" fill="#EDA202"/>
<rect x="194.00" y="197.80" width="1.00" height="4.61" fill="#9EA19F"/>
<rect x="195.00" y="219.22" width="1.00" height="21.78" fill="#EDA202"/>
<rect x="195.00" y="197.80" width="1.00" height="21.42" fill="#C2A157"/>
<rect x="196.00" y="222.66" width="1.00" height="18.34" fill="#EDA202"/>
<rect x="196.00" y="219.22" width="1.00" height="3.44" fill="#CFA23E"/>
<rect x="197.00" y="222.66" width="1.00" height="18.34" fill="#EDA202"/>
<rect x="198.00" y="225.80" width="1.00" height="15.20" fill="#EDA202"/>
<rect x="199.00" y="225.80" width="1.00" height="15.20" fill="#EDA202"/>
<rect x="199.00" y="218.89" width="1.00" height="6.91" fill="#CEA13F"/>
<rect x="200.00" y="222.96" width="1.00" height="18.04" fill="#EDA202"/>
<rect x="200.00" y="218.89" width="1.00" height="4.08" fill="#79A0E8"/>
<rect x="201.00" y="222.96" width="1.00" height="18.04" fill="#EDA202"/>
<rect x="201.00" y="165.67" width="1.00" height="57.29" fill="#B6A16F"/>
<rect x="202.00" y="165.67" width="1.00" height="75.33" fill="#EDA202"/>
<rect x="202.00" y="164.79" width="1.00" height="0.88" fill="#85A0D0"/>
<rect x="203.00" y="164.79" width="1.00" height="76.21" fill="#EDA202"/>
<rect x="204.00" y="172.02" width="1.00" height="68.98" fill="#EDA202"/>
<rect x="204.00" y="164.79" width="1.00" height="7.22" fill="#7FA0DC"/>
<rect x="205.00" y="175.64" width="1.00" height="65.36" fill="#EDA202"/>
<rect x="205.00" y="172.02" width="1.00" height="3.62" fill="#8BA0C4"/>
<rect x="206.00" y="177.21" width="1.00" height="63.79" fill="#EDA202"/>
<rect x="206.00" y="175.64" width="1.00" height="1.58" fill="#8BA0C4"/>
<rect x="207.00" y="180.30" width="1.00" height="60.70" fill="#EDA202"/>
<rect x="207.00" y="177.21" width="1.00" height="3.08" fill="#8BA0C4"/>
<rect x="208.00" y="178.41" width="1.00" height="62.59" fill="#EDA202"/>
<rect x="209.00" y="202.70" width="1.00" height="38.30" fill="#EDA202"/>
<rect x="210.00" y="202.70" width="1.00" height="38.30" fill="#EDA202"/>
<rect x="210.00" y="177.16" width="1.00" height="25.53" fill="#E1A21A"/>
<rect x="210.00" y="174.46" width="1.00" height="2.70" fill="#7FA0DC"/>
<rect x="211.00" y="174.46" width="1.00" height="66.54" fill="#EDA202"/>
<rect x="212.00" y="178.10" width="1.00" height="62.90" fill="#EDA202"/>
<rect x="212.00" y="174.46" width="1.00" height="3.64" fill="#98A1AB"/>
<rect x="213.00" y="178.35" width="1.00" height="62.65" fill="#EDA202"/>
<rect x="214.00" y="178.35" width="1.00" height="62.65" fill="#EDA202"/>
<rect x="214.00" y="174.61" width="1.00" height="3.74" fill="#B0A17B"/>
<rect x="215.00" y="174.61" width="1.00" height="66.39" fill="#EDA202"/>
<rect x="215.00" y="173.88" width="1.00" height="0.73" fill="#7FA0DC"/>
<rect x="216.00" y="173.88" width="1.00" height="67.12" fill="#EDA202"/>
<rect x="217.00" y="169.18" width="1.00" height="71.82" fill="#EDA202"/>
<rect x="218.00" y="169.18" width="1.00" height="71.82" fill="#EDA202"/>
<rect x="218.00" y="168.32" width="1.00" height="0.86" fill="#E1A21A"/>
<rect x="219.00" y="179.05" width="1.00" height="61.95" fill="#EDA202"/>
<rect x="219.00" y="168.32" width="1.00" height="10.73" fill="#B0A17B"/>
<rect x="220.00" y="179.05" width="1.00" height="61.95" fill="#EDA202"/>
<rect x="220.00" y="171.27" width="1.00" height="7.78" fill="#C8A14B"/>
<rect x="221.00" y="214.50" width="1.00" height="26.50" fill="#EDA202"/>
<rect x="221.00" y="171.27" width="1.00" height="43.23" fill="#98A1AB"/>
<rect x="222.00" y="214.50" width="1.00" height="26.50" fill="#EDA202"/>
<rect x="222.00" y="179.29" width="1.00" height="35.21" fill="#BCA163"/>
<rect x="223.00" y="204.68" width="1.00" height="36.32" fill="#EDA202"/>
<rect x="223.00" y="179.29" width="1.00" height="25.39" fill="#8BA0C4"/>
<rect x="224.00" y="204.68" width="1.00" height="36.32" fill="#EDA202"/>
<rect x="224.00" y="181.60" width="1.00" height="23.08" fill="#B6A16F"/>
<rect x="225.00" y="201.55" width="1.00" height="39.45" fill="#EDA202"/>
<rect x="225.00" y="181.60" width="1.00" height="19.95" fill="#92A1B7"/>
<rect x="226.00" y="201.55" width="1.00" height="39.45" fill="#EDA202"/>
<rect x="226.00" y="181.97" width="1.00" height="19.58" fill="#B0A17B"/>
<rect x="227.00" y="206.87" width="1.00" height="34.13" fill="#EDA202"/>
<rect x="227.00" y="181.97" width="1.00" height="24.89" fill="#98A1AB"/>
<rect x="228.00" y="206.87" width="1.00" height="34.13" fill="#EDA202"/>
<rect x="228.00" y="176.10" width="1.00" height="30.77" fill="#E1A21A"/>
<rect x="229.00" y="182.47" width="1.00" height="58.53" fill="#EDA202"/>
<rect x="229.00" y="176.10" width="1.00" height="6.38" fill="#9EA19F"/>
<rect x="230.00" y="182.47" width="1.00" height="58.53" fill="#EDA202"/>
<rect x="230.00" y="177.32" width="1.00" height="5.15" fill="#C2A157"/>
<rect x="231.00" y="177.32" width="1.00" height="63.68" fill="#EDA202"/>
<rect x="231.00" y="173.35" width="1.00" height="3.97" fill="#DBA226"/>
<rect x="232.00" y="173.35" width="1.00" height="67.65" fill="#EDA202"/>
<rect x="232.00" y="164.76" width="1.00" height="8.58" fill="#CEA13F"/>
<rect x="233.00" y="199.04" width="1.00" height="41.96" fill="#EDA202"/>
<rect x="233.00" y="164.76" width="1.00" height="34.28" fill="#B0A17B"/>
<rect x="234.00" y="199.04" width="1.00" height="41.96" fill="#EDA202"/>
<rect x="234.00" y="163.55" width="1.00" height="35.50" fill="#7FA0DC"/>
<rect x="235.00" y="163.55" width="1.00" height="77.45" fill="#EDA202"/>
<rect x="236.00" y="198.76" width="1.00" height="42.24" fill="#EDA202"/>
<rect x="237.00" y="198.76" width="1.00" height="42.24" fill="#EDA202"/>
<rect x="237.00" y="169.34" width="1.00" height="29.42" fill="#E1A21A"/>
<rect x="238.00" y="169.34" width="1.00" height="71.66" fill="#EDA202"/>
<rect x="239.00" y="206.01" width="1.00" height="34.99" fill="#EDA202"/>
<rect x="239.00" y="169.00" width="1.00" height="37.01" fill="#8BA0C4"/>
<rect x="240.00" y="207.35" width="1.00" height="33.65" fill="#EDA202"/>
<rect x="241.00" y="207.35" width="1.00" height="33.65" fill="#EDA202"/>
<rect x="241.00" y="175.97" width="1.00" height="31.38" fill="#CEA13F"/>
<rect x="242.00" y="181.83" width="1.00" height="59.17" fill="#EDA202"/>
<rect x="242.00" y="175.97" width="1.00" height="5.86" fill="#79A0E8"/>
<rect x="243.00" y="204.53" width="1.00" height="36.47" fill="#EDA202"/>
<rect x="243.00" y="181.83" width="1.00" height="22.70" fill="#79A0E8"/>
<rect x="244.00" y="206.79" width="1.00" height="34.21" fill="#EDA202"/>
<rect x="244.00" y="204.53" width="1.00" height="2.26" fill="#85A0D0"/>
<rect x="245.00" y="206.79" width="1.00" height="34.21" fill="#EDA202"/>
<rect x="245.00" y="170.82" width="1.00" height="35.97" fill="#CEA13F"/>
<rect x="246.00" y="178.63" width="1.00" height="62.37" fill="#EDA202"/>
<rect x="246.00" y="170.82" width="1.00" height="7.81" fill="#92A1B7"/>
<rect x="247.00" y="178.63" width="1.00" height="62.37" fill="#EDA202"/>
<rect x="247.00" y="169.29" width="1.00" height="9.34" fill="#CEA13F"/>
<rect x="248.00" y="169.29" width="1.00" height="71.71" fill="#EDA202"/>
<rect x="248.00" y="168.58" width="1.00" height="0.71" fill="#CEA13F"/>
<rect x="249.00" y="222.81" width="1.00" height="18.19" fill="#EDA202"/>
<rect x="249.00" y="168.58" width="1.00" height="54.23" fill="#C2A157"/>
<rect x="250.00" y="222.81" width="1.00" height="18.19" fill="#EDA202"/>
<rect x="250.00" y="195.15" width="1.00" height="27.67" fill="#9EA19F"/>
<rect x="251.00" y="195.15" width="1.00" height="45.85" fill="#EDA202"/>
<rect x="252.00" y="201.17" width="1.00" height="39.83" fill="#EDA202"/>
<rect x="252.00" y="195.15" width="1.00" height="6.03" fill="#79A0E8"/>
<rect x="253.00" y="201.17" width="1.00" height="39.83" fill="#EDA202"/>
<rect x="253.00" y="187.55" width="1.00" height="13.63" fill="#C8A14B"/>
<rect x="254.00" y="187.55" width="1.00" height="53.45" fill="#EDA202"/>
<rect x="255.00" y="187.46" width="1.00" height="53.54" fill="#EDA202"/>
<rect x="255.00" y="176.53" width="1.00" height="10.94" fill="#C2A157"/>
<rect x="256.00" y="199.57" width="1.00" height="41.43" fill="#EDA202"/>
<rect x="256.00" y="176.53" width="1.00" height="23.04" fill="#AAA187"/>
<rect x="257.00" y="199.57" width="1.00" height="41.43" fill="#EDA202"/>
<rect x="257.00" y="181.02" width="1.00" height="18.55" fill="#CEA13F"/>
<rect x="258.00" y="181.02" width="1.00" height="59.98" fill="#EDA202"/>
<rect x="258.00" y="173.96" width="1.00" height="7.06" fill="#B0A17B"/>
<rect x="259.00" y="173.96" width="1.00" height="67.04" fill="#EDA202"/>
<rect x="259.00" y="168.07" width="1.00" height="5.89" fill="#91A0B8"/>
<rect x="260.00" y="178.64" width="1.00" height="62.36" fill="#EDA202"/>
<rect x="260.00" y="168.07" width="1.00" height="10.57" fill="#B6A16F"/>
<rect x="261.00" y="194.95" width="1.00" height="46.05" fill="#EDA202"/>
<rect x="261.00" y="178.64" width="1.00" height="16.31" fill="#C2A157"/>
<rect x="262.00" y="194.95" width="1.00" height="46.05" fill="#EDA202"/>
<rect x="263.00" y="194.95" width="1.00" height="46.05" fill="#EDA202"/>
<rect x="263.00" y="185.15" width="1.00" height="9.80" fill="#E7A20E"/>
<rect x="264.00" y="192.59" width="1.00" height="48.41" fill="#EDA202"/>
<rect x="264.00" y="191.63" width="1.00" height="0.96" fill="#8BA0C4"/>
<rect x="264.00" y="185.15" width="1.00" height="6.48" fill="#85A0D0"/>
<rect x="265.00" y="191.63" width="1.00" height="49.37" fill="#EDA202"/>
<rect x="266.00" y="191.63" width="1.00" height="49.37" fill="#EDA202"/>
<rect x="266.00" y="189.88" width="1.00" height="1.74" fill="#D5A232"/>
<rect x="267.00" y="197.64" width="1.00" height="43.36" fill="#EDA202"/>
<rect x="267.00" y="189.88" width="1.00" height="7.75" fill="#98A1AB"/>
<rect x="268.00" y="197.64" width="1.00" height="43.36" fill="#EDA202"/>
<rect x="268.00" y="194.89" width="1.00" height="2.75" fill="#AAA187"/>
<rect x="269.00" y="194.89" width="1.00" height="46.11" fill="#EDA202"/>
<rect x="269.00" y="190.51" width="1.00" height="4.37" fill="#8BA0C4"/>
<rect x="270.00" y="225.70" width="1.00" height="15.30" fill="#EDA202"/>
<rect x="270.00" y="190.51" width="1.00" height="35.19" fill="#BCA163"/>
<rect x="271.00" y="225.70" width="1.00" height="15.30" fill="#EDA202"/>
<rect x="271.00" y="197.78" width="1.00" height="27.91" fill="#A4A193"/>
<rect x="272.00" y="207.50" width="1.00" height="33.50" fill="#EDA202"/>
<rect x="272.00" y="197.78" width="1.00" height="9.72" fill="#C8A14B"/>
<rect x="273.00" y="231.49" width="1.00" height="9.51" fill="#EDA202"/>
<rect x="273.00" y="207.50" width="1.00" height="23.99" fill="#B0A17B"/>
<rect x="274.00" y="231.49" width="1.00" height="9.51" fill="#EDA202"/>
<rect x="274.00" y="204.53" width="1.00" height="26.96" fill="#A4A193"/>
<rect x="275.00" y="204.53" width="1.00" height="36.47" fill="#EDA202"/>
<rect x="275.00" y="196.35" width="1.00" height="8.18" fill="#BCA163"/>
<rect x="276.00" y="232.36" width="1.00" height="8.64" fill="#EDA202"/>
<rect x="276.00" y="196.35" width="1.00" height="36.00" fill="#A4A193"/>
<rect x="277.00" y="232.36" width="1.00" height="8.64" fill="#EDA202"/>
<rect x="277.00" y="187.62" width="1.00" height="44.74" fill="#9EA19F"/>
<rect x="278.00" y="221.12" width="1.00" height="19.88" fill="#EDA202"/>
<rect x="278.00" y="187.62" width="1.00" height="33.50" fill="#E1A21A"/>
<rect x="279.00" y="221.12" width="1.00" height="19.88" fill="#EDA202"/>
<rect x="280.00" y="188.40" width="1.00" height="52.60" fill="#EDA202"/>
<rect x="281.00" y="188.91" width="1.00" height="52.09" fill="#EDA202"/>
<rect x="281.00" y="188.40" width="1.00" height="0.51" fill="#A4A193"/>
<rect x="282.00" y="188.91" width="1.00" height="52.09" fill="#EDA202"/>
<rect x="282.00" y="186.89" width="1.00" height="2.02" fill="#8BA0C4"/>
<rect x="283.00" y="188.54" width="1.00" height="52.46" fill="#EDA202"/>
<rect x="283.00" y="186.89" width="1.00" height="1.65" fill="#D5A232"/>
<rect x="284.00" y="195.17" width="1.00" height="45.83" fill="#EDA202"/>
<rect x="284.00" y="188.54" width="1.00" height="6.63" fill="#BCA163"/>
<rect x="285.00" y="195.17" width="1.00" height="45.83" fill="#EDA202"/>
<rect x="286.00" y="197.87" width="1.00" height="43.13" fill="#EDA202"/>
<rect x="286.00" y="184.61" width="1.00" height="13.27" fill="#D5A232"/>
<rect x="287.00" y="197.87" width="1.00" height="43.13" fill="#EDA202"/>
<rect x="287.00" y="190.81" width="1.00" height="7.07" fill="#A4A193"/>
<rect x="288.00" y="190.81" width="1.00" height="50.19" fill="#EDA202"/>
<rect x="288.00" y="189.75" width="1.00" height="1.06" fill="#85A0D0"/>
<rect x="289.00" y="225.15" width="1.00" height="15.85" fill="#EDA202"/>
<rect x="289.00" y="189.75" width="1.00" height="35.40" fill="#DBA226"/>
<rect x="290.00" y="225.15" width="1.00" height="15.85" fill="#EDA202"/>
<rect x="291.00" y="229.52" width="1.00" height="11.48" fill="#EDA202"/>
<rect x="291.00" y="225.15" width="1.00" height="4.38" fill="#92A1B7"/>
<rect x="292.00" y="229.52" width="1.00" height="11.48" fill="#EDA202"/>
<rect x="292.00" y="226.38" width="1.00" height="3.14" fill="#E7A20E"/>
<rect x="293.00" y="226.38" width="1.00" height="14.62" fill="#EDA202"/>
<rect x="293.00" y="181.99" width="1.00" height="44.39" fill="#DBA226"/>
<rect x="294.00" y="181.99" width="1.00" height="59.01" fill="#EDA202"/>
<rect x="294.00" y="174.26" width="1.00" height="7.73" fill="#DBA226"/>
<rect x="295.00" y="174.74" width="1.00" height="66.26" fill="#EDA202"/>
<rect x="295.00" y="174.26" width="1.00" height="0.48" fill="#B6A16F"/>
<rect x="296.00" y="174.74" width="1.00" height="66.26" fill="#EDA202"/>
<rect x="296.00" y="165.83" width="1.00" height="8.91" fill="#C2A157"/>
<rect x="297.00" y="172.26" width="1.00" height="68.74" fill="#EDA202"/>
<rect x="297.00" y="165.83" width="1.00" height="6.43" fill="#9EA19F"/>
<rect x="298.00" y="209.93" width="1.00" height="31.07" fill="#EDA202"/>
<rect x="298.00" y="172.26" width="1.00" height="37.67" fill="#85A0D0"/>
<rect x="299.00" y="210.18" width="1.00" height="30.82" fill="#EDA202"/>
<rect x="300.00" y="210.18" width="1.00" height="30.82" fill="#EDA202"/>
<rect x="300.00" y="183.17" width="1.00" height="27.01" fill="#9EA19F"/>
<rect x="301.00" y="187.51" width="1.00" height="53.49" fill="#EDA202"/>
<rect x="301.00" y="183.17" width="1.00" height="4.35" fill="#C2A157"/>
<rect x="302.00" y="187.51" width="1.00" height="53.49" fill="#EDA202"/>
<rect x="303.00" y="187.51" width="1.00" height="53.49" fill="#EDA202"/>
<rect x="303.00" y="185.60" width="1.00" height="1.92" fill="#E7A20E"/>
<rect x="304.00" y="227.94" width="1.00" height="13.06" fill="#EDA202"/>
<rect x="304.00" y="185.60" width="1.00" height="42.34" fill="#79A0E8"/>
<rect x="305.00" y="227.94" width="1.00" height="13.06" fill="#EDA202"/>
<rect x="305.00" y="203.04" width="1.00" height="24.89" fill="#DBA226"/>
<rect x="306.00" y="205.04" width="1.00" height="35.96" fill="#EDA202"/>
<rect x="306.00" y="203.04" width="1.00" height="2.00" fill="#B6A16F"/>
<rect x="307.00" y="205.57" width="1.00" height="35.43" fill="#EDA202"/>
<rect x="307.00" y="205.04" width="1.00" height="0.53" fill="#9EA19F"/>
<rect x="308.00" y="230.70" width="1.00" height="10.30" fill="#EDA202"/>
<rect x="308.00" y="205.57" width="1.00" height="25.13" fill="#AAA187"/>
<rect x="309.00" y="230.70" width="1.00" height="10.30" fill="#EDA202"/>
<rect x="309.00" y="205.56" width="1.00" height="25.14" fill="#B6A16F"/>
<rect x="310.00" y="208.96" width="1.00" height="32.04" fill="#EDA202"/>
<rect x="310.00" y="205.56" width="1.00" height="3.39" fill="#DBA226"/>
<rect x="311.00" y="208.96" width="1.00" height="32.04" fill="#EDA202"/>
<rect x="311.00" y="202.91" width="1.00" height="6.05" fill="#85A0D0"/>
<rect x="312.00" y="202.91" width="1.00" height="38.09" fill="#EDA202"/>
<rect x="313.00" y="221.52" width="1.00" height="19.48" fill="#EDA202"/>
<rect x="313.00" y="202.91" width="1.00" height="18.61" fill="#7FA0DC"/>
<rect x="314.00" y="223.66" width="1.00" height="17.34" fill="#EDA202"/>
<rect x="314.00" y="221.52" width="1.00" height="2.14" fill="#9EA19F"/>
<rect x="315.00" y="223.66" width="1.00" height="17.34" fill="#EDA202"/>
<rect x="315.00" y="221.36" width="1.00" height="2.30" fill="#A4A193"/>
<rect x="316.00" y="221.36" width="1.00" height="19.64" fill="#EDA202"/>
<rect x="316.00" y="200.19" width="1.00" height="21.17" fill="#98A1AB"/>
<rect x="317.00" y="231.45" width="1.00" height="9.55" fill="#EDA202"/>
<rect x="317.00" y="200.19" width="1.00" height="31.26" fill="#D5A232"/>
<rect x="318.00" y="231.45" width="1.00" height="9.55" fill="#EDA202"/>
<rect x="318.00" y="200.10" width="1.00" height="31.35" fill="#A4A193"/>
<rect x="319.00" y="200.10" width="1.00" height="40.90" fill="#EDA202"/>
<rect x="319.00" y="198.82" width="1.00" height="1.28" fill="#85A0D0"/>
<rect x="320.00" y="199.64" width="1.00" height="41.36" fill="#EDA202"/>
<rect x="320.00" y="198.82" width="1.00" height="0.82" fill="#C2A157"/>
<rect x="321.00" y="199.64" width="1.00" height="41.36" fill="#EDA202"/>
<rect x="321.00" y="198.24" width="1.00" height="1.40" fill="#B6A16F"/>
<rect x="322.00" y="199.12" width="1.00" height="41.88" fill="#EDA202"/>
<rect x="322.00" y="198.24" width="1.00" height="0.88" fill="#B6A16F"/>
<rect x="323.00" y="202.67" width="1.00" height="38.33" fill="#EDA202"/>
<rect x="323.00" y="199.12" width="1.00" height="3.56" fill="#E7A20E"/>
<rect x="324.00" y="202.67" width="1.00" height="38.33" fill="#EDA202"/>
<rect x="325.00" y="203.07" width="1.00" height="37.93" fill="#EDA202"/>
<rect x="325.00" y="202.67" width="1.00" height="0.40" fill="#8BA0C4"/>
<rect x="326.00" y="211.90" width="1.00" height="29.10" fill="#EDA202"/>
<rect x="326.00" y="203.07" width="1.00" height="8.83" fill="#BCA163"/>
<rect x="327.00" y="211.90" width="1.00" height="29.10" fill="#EDA202"/>
<rect x="327.00" y="202.06" width="1.00" height="9.83" fill="#98A1AB"/>
<rect x="328.00" y="202.06" width="1.00" height="38.94" fill="#EDA202"/>
<rect x="329.00" y="201.71" width="1.00" height="39.29" fill="#EDA202"/>
<rect x="329.00" y="180.51" width="1.00" height="21.20" fill="#B0A17B"/>
<rect x="330.00" y="216.74" width="1.00" height="24.26" fill="#EDA202"/>
<rect x="330.00" y="180.51" width="1.00" height="36.23" fill="#CFA23E"/>
<rect x="331.00" y="216.74" width="1.00" height="24.26" fill="#EDA202"/>
<rect x="332.00" y="225.00" width="1.00" height="16.00" fill="#EDA202"/>
<rect x="332.00" y="216.74" width="1.00" height="8.26" fill="#85A0D0"/>
<rect x="333.00" y="225.00" width="1.00" height="16.00" fill="#EDA202"/>
<rect x="333.00" y="206.46" width="1.00" height="18.54" fill="#DBA226"/>
<rect x="334.00" y="216.91" width="1.00" height="24.09" fill="#EDA202"/>
<rect x="334.00" y="206.46" width="1.00" height="10.44" fill="#B6A16F"/>
<rect x="335.00" y="216.91" width="1.00" height="24.09" fill="#EDA202"/>
<rect x="335.00" y="197.01" width="1.00" height="19.90" fill="#AAA187"/>
<rect x="336.00" y="197.01" width="1.00" height="43.99" fill="#EDA202"/>
<rect x="336.00" y="185.69" width="1.00" height="11.32" fill="#79A0E8"/>
<rect x="337.00" y="221.66" width="1.00" height="19.34" fill="#EDA202"/>
<rect x="337.00" y="185.69" width="1.00" height="35.97" fill="#E7A20E"/>
<rect x="338.00" y="221.66" width="1.00" height="19.34" fill="#EDA202"/>
<rect x="339.00" y="221.66" width="1.00" height="19.34" fill="#EDA202"/>
<rect x="340.00" y="221.70" width="1.00" height="19.30" fill="#EDA202"/>
<rect x="341.00" y="221.70" width="1.00" height="19.30" fill="#EDA202"/>
<rect x="341.00" y="207.86" width="1.00" height="13.85" fill="#98A1AB"/>
<rect x="342.00" y="214.04" width="1.00" height="26.96" fill="#EDA202"/>
<rect x="342.00" y="207.86" width="1.00" height="6.19" fill="#D5A232"/>
<rect x="343.00" y="214.04" width="1.00" height="26.96" fill="#EDA202"/>
<rect x="344.00" y="214.04" width="1.00" height="26.96" fill="#EDA202"/>
<rect x="344.00" y="201.09" width="1.00" height="12.95" fill="#E7A20E"/>
<rect x="345.00" y="219.59" width="1.00" height="21.41" fill="#EDA202"/>
<rect x="345.00" y="201.09" width="1.00" height="18.50" fill="#98A1AB"/>
<rect x="346.00" y="219.59" width="1.00" height="21.41" fill="#EDA202"/>
<rect x="346.00" y="204.75" width="1.00" height="14.84" fill="#98A1AB"/>
<rect x="347.00" y="204.75" width="1.00" height="36.25" fill="#EDA202"/>
<rect x="347.00" y="204.25" width="1.00" height="0.50" fill="#B0A17B"/>
<rect x="348.00" y="218.82" width="1.00" height="22.18" fill="#EDA202"/>
<rect x="348.00" y="204.25" width="1.00" height="14.58" fill="#BCA163"/>
<rect x="349.00" y="218.82" width="1.00" height="22.18" fill="#EDA202"/>
<rect x="350.00" y="200.97" width="1.00" height="40.03" fill="#EDA202"/>
<rect x="351.00" y="207.91" width="1.00" height="33.09" fill="#EDA202"/>
<rect x="352.00" y="225.33" width="1.00" height="15.67" fill="#EDA202"/>
<rect x="352.00" y="207.91" width="1.00" height="17.43" fill="#A4A193"/>
<rect x="353.00" y="226.60" width="1.00" height="14.40" fill="#EDA202"/>
<rect x="353.00" y="225.33" width="1.00" height="1.27" fill="#D5A232"/>
<rect x="354.00" y="226.60" width="1.00" height="14.40" fill="#EDA202"/>
<rect x="354.00" y="205.69" width="1.00" height="20.91" fill="#A4A193"/>
<rect x="355.00" y="227.38" width="1.00" height="13.62" fill="#EDA202"/>
<rect x="355.00" y="205.69" width="1.00" height="21.69" fill="#A4A193"/>
<rect x="356.00" y="227.38" width="1.00" height="13.62" fill="#EDA202"/>
<rect x="356.00" y="205.11" width="1.00" height="22.27" fill="#BCA163"/>
<rect x="357.00" y="207.09" width="1.00" height="33.91" fill="#EDA202"/>
<rect x="357.00" y="205.11" width="1.00" height="1.99" fill="#A4A193"/>
<rect x="358.00" y="207.09" width="1.00" height="33.91" fill="#EDA202"/>
<rect x="358.00" y="201.30" width="1.00" height="5.80" fill="#BCA163"/>
<rect x="359.00" y="225.24" width="1.00" height="15.76" fill="#EDA202"/>
<rect x="359.00" y="201.30" width="1.00" height="23.95" fill="#D5A232"/>
<rect x="360.00" y="225.24" width="1.00" height="15.76" fill="#EDA202"/>
<rect x="361.00" y="225.24" width="1.00" height="15.76" fill="#EDA202"/>
<rect x="361.00" y="204.98" width="1.00" height="20.27" fill="#D5A232"/>
<rect x="362.00" y="204.98" width="1.00" height="36.02" fill="#EDA202"/>
<rect x="362.00" y="200.74" width="1.00" height="4.23" fill="#A4A193"/>
<rect x="363.00" y="207.81" width="1.00" height="33.19" fill="#EDA202"/>
<rect x="363.00" y="200.74" width="1.00" height="7.07" fill="#A4A193"/>
<rect x="364.00" y="207.81" width="1.00" height="33.19" fill="#EDA202"/>
<rect x="364.00" y="203.83" width="1.00" height="3.99" fill="#9EA19F"/>
<rect x="365.00" y="208.47" width="1.00" height="32.53" fill="#EDA202"/>
<rect x="365.00" y="203.83" width="1.00" height="4.65" fill="#E1A21A"/>
<rect x="366.00" y="208.47" width="1.00" height="32.53" fill="#EDA202"/>
<rect x="367.00" y="226.19" width="1.00" height="14.81" fill="#EDA202"/>
<rect x="368.00" y="227.32" width="1.00" height="13.68" fill="#EDA202"/>
<rect x="368.00" y="226.19" width="1.00" height="1.13" fill="#7FA0DC"/>
<rect x="369.00" y="227.32" width="1.00" height="13.68" fill="#EDA202"/>
<rect x="369.00" y="224.14" width="1.00" height="3.18" fill="#B0A17B"/>
<rect x="370.00" y="227.43" width="1.00" height="13.57" fill="#EDA202"/>
<rect x="370.00" y="224.14" width="1.00" height="3.29" fill="#CFA23E"/>
<rect x="371.00" y="227.43" width="1.00" height="13.57" fill="#EDA202"/>
<rect x="372.00" y="213.78" width="1.00" height="27.22" fill="#EDA202"/>
<rect x="373.00" y="226.85" width="1.00" height="14.15" fill="#EDA202"/>
<rect x="373.00" y="213.78" width="1.00" height="13.06" fill="#92A1B7"/>
<rect x="374.00" y="231.64" width="1.00" height="9.36" fill="#EDA202"/>
<rect x="374.00" y="226.85" width="1.00" height="4.79" fill="#C2A157"/>
<rect x="375.00" y="231.64" width="1.00" height="9.36" fill="#EDA202"/>
<rect x="376.00" y="231.64" width="1.00" height="9.36" fill="#EDA202"/>
<rect x="376.00" y="227.04" width="1.00" height="4.60" fill="#E7A20E"/>
<rect x="376.00" y="211.17" width="1.00" height="15.87" fill="#85A0D0"/>
<rect x="377.00" y="211.17" width="1.00" height="29.83" fill="#EDA202"/>
<rect x="378.00" y="211.17" width="1.00" height="29.83" fill="#EDA202"/>
<rect x="378.00" y="201.02" width="1.00" height="10.15" fill="#E1A21A"/>
<rect x="378.00" y="199.62" width="1.00" height="1.39" fill="#D5A232"/>
<rect x="379.00" y="201.02" width="1.00" height="39.98" fill="#EDA202"/>
<rect x="379.00" y="192.96" width="1.00" height="8.06" fill="#98A1AB"/>
<rect x="380.00" y="192.96" width="1.00" height="48.04" fill="#EDA202"/>
<rect x="381.00" y="192.96" width="1.00" height="48.04" fill="#EDA202"/>
<rect x="381.00" y="191.73" width="1.00" height="1.23" fill="#E1A21A"/>
<rect x="382.00" y="191.73" width="0.20" height="49.27" fill="#EDA202"/>
<rect x="382.00" y="191.08" width="0.20" height="0.64" fill="#B0A17B"/>
<line x1="22.40" y1="149.90" x2="22.40" y2="241.00" stroke="#FFFFFF" stroke-width="0.8" stroke-opacity="0.85"/>
<line x1="43.20" y1="149.90" x2="43.20" y2="241.00" stroke="#FFFFFF" stroke-width="0.8" stroke-opacity="0.85"/>
<line x1="68.30" y1="149.90" x2="68.30" y2="241.00" stroke="#FFFFFF" stroke-width="0.8" stroke-opacity="0.85"/>
<line x1="75.30" y1="149.90" x2="75.30" y2="241.00" stroke="#FFFFFF" stroke-width="0.8" stroke-opacity="0.85"/>
<line x1="89.20" y1="149.90" x2="89.20" y2="241.00" stroke="#FFFFFF" stroke-width="0.8" stroke-opacity="0.85"/>
<line x1="119.10" y1="149.90" x2="119.10" y2="241.00" stroke="#FFFFFF" stroke-width="0.8" stroke-opacity="0.85"/>
<line x1="174.70" y1="149.90" x2="174.70" y2="241.00" stroke="#FFFFFF" stroke-width="0.8" stroke-opacity="0.85"/>
<line x1="179.30" y1="149.90" x2="179.30" y2="241.00" stroke="#FFFFFF" stroke-width="0.8" stroke-opacity="0.85"/>
<line x1="190.80" y1="149.90" x2="190.80" y2="241.00" stroke="#FFFFFF" stroke-width="0.8" stroke-opacity="0.85"/>
<line x1="266.30" y1="149.90" x2="266.30" y2="241.00" stroke="#FFFFFF" stroke-width="0.8" stroke-opacity="0.85"/>
<line x1="313.50" y1="149.90" x2="313.50" y2="241.00" stroke="#FFFFFF" stroke-width="0.8" stroke-opacity="0.85"/>
<line x1="329.80" y1="149.90" x2="329.80" y2="241.00" stroke="#FFFFFF" stroke-width="0.8" stroke-opacity="0.85"/>
<line x1="343.40" y1="149.90" x2="343.40" y2="241.00" stroke="#FFFFFF" stroke-width="0.8" stroke-opacity="0.85"/>
<line x1="2.60" y1="248.30" x2="382.00" y2="248.30" stroke="#4c4c4c" stroke-width="1.25"/>
<line x1="2.70" y1="244.60" x2="2.70" y2="252.00" stroke="#4c4c4c" stroke-width="0.8"/>
<line x1="22.40" y1="244.60" x2="22.40" y2="252.00" stroke="#4c4c4c" stroke-width="0.8"/>
<line x1="43.20" y1="244.60" x2="43.20" y2="252.00" stroke="#4c4c4c" stroke-width="0.8"/>
<line x1="68.30" y1="244.60" x2="68.30" y2="252.00" stroke="#4c4c4c" stroke-width="0.8"/>
<line x1="75.30" y1="244.60" x2="75.30" y2="252.00" stroke="#4c4c4c" stroke-width="0.8"/>
<line x1="89.20" y1="244.60" x2="89.20" y2="252.00" stroke="#4c4c4c" stroke-width="0.8"/>
<line x1="119.10" y1="244.60" x2="119.10" y2="252.00" stroke="#4c4c4c" stroke-width="0.8"/>
<line x1="174.70" y1="244.60" x2="174.70" y2="252.00" stroke="#4c4c4c" stroke-width="0.8"/>
<line x1="190.80" y1="244.60" x2="190.80" y2="252.00" stroke="#4c4c4c" stroke-width="0.8"/>
<line x1="266.30" y1="244.60" x2="266.30" y2="252.00" stroke="#4c4c4c" stroke-width="0.8"/>
<line x1="313.50" y1="244.60" x2="313.50" y2="252.00" stroke="#4c4c4c" stroke-width="0.8"/>
<line x1="329.80" y1="244.60" x2="329.80" y2="252.00" stroke="#4c4c4c" stroke-width="0.8"/>
<line x1="343.40" y1="244.60" x2="343.40" y2="252.00" stroke="#4c4c4c" stroke-width="0.8"/>
<line x1="381.90" y1="244.60" x2="381.90" y2="252.00" stroke="#4c4c4c" stroke-width="0.8"/>
<g fill="#303030" fill-opacity="0.72" stroke="#303030" stroke-opacity="0.72" stroke-width="0.12">
<text transform="translate(11.90 260.90) rotate(-83)" y="2.38" font-size="6.6" text-anchor="middle">S1</text>
<text transform="translate(33.00 260.90) rotate(-83)" y="2.38" font-size="6.6" text-anchor="middle">S2</text>
<text transform="translate(55.90 260.90) rotate(-83)" y="2.38" font-size="6.6" text-anchor="middle">S3</text>
<text transform="translate(71.70 260.90) rotate(-83)" y="2.38" font-size="6.6" text-anchor="middle">S4</text>
<text transform="translate(82.20 260.90) rotate(-83)" y="2.38" font-size="6.6" text-anchor="middle">S5</text>
<text transform="translate(104.30 260.90) rotate(-83)" y="2.38" font-size="6.6" text-anchor="middle">S6</text>
<text transform="translate(146.60 260.90) rotate(-83)" y="2.38" font-size="6.6" text-anchor="middle">S7</text>
<text transform="translate(183.30 260.90) rotate(-83)" y="2.38" font-size="6.6" text-anchor="middle">S8</text>
<text transform="translate(229.60 260.90) rotate(-83)" y="2.38" font-size="6.6" text-anchor="middle">S9</text>
<text transform="translate(289.40 260.90) rotate(-83)" y="2.38" font-size="6.6" text-anchor="middle">S10</text>
<text transform="translate(321.30 260.90) rotate(-83)" y="2.38" font-size="6.6" text-anchor="middle">S11</text>
<text transform="translate(336.00 260.90) rotate(-83)" y="2.38" font-size="6.6" text-anchor="middle">S12</text>
<text transform="translate(363.40 260.90) rotate(-83)" y="2.38" font-size="6.6" text-anchor="middle">S13</text>
</g>
<rect x="400.50" y="150.30" width="303.80" height="90.50" fill="#B33C7C"/>
<rect x="400.50" y="150.30" width="35.30" height="63.40" fill="#0C7A1E"/>
<rect x="408.30" y="213.00" width="3.60" height="0.90" fill="#B33C7C"/>
<rect x="420.00" y="212.50" width="3.90" height="1.40" fill="#B33C7C"/>
<rect x="427.00" y="213.70" width="5.70" height="0.50" fill="#0C7A1E"/>
<rect x="460.00" y="150.30" width="10.00" height="0.30" fill="#0C7A1E"/>
<rect x="476.00" y="150.30" width="4.00" height="0.50" fill="#0C7A1E"/>
<rect x="490.50" y="150.30" width="3.00" height="1.00" fill="#0C7A1E"/>
<rect x="496.50" y="150.30" width="3.00" height="2.20" fill="#0C7A1E"/>
<rect x="501.00" y="150.30" width="8.00" height="0.50" fill="#0C7A1E"/>
<rect x="515.00" y="150.30" width="6.00" height="0.30" fill="#0C7A1E"/>
<rect x="530.60" y="150.30" width="39.50" height="90.50" fill="#0C7A1E"/>
<rect x="531.00" y="239.40" width="7.50" height="1.40" fill="#B33C7C"/>
<rect x="538.70" y="215.80" width="4.00" height="25.00" fill="#B33C7C"/>
<rect x="545.00" y="240.30" width="20.00" height="0.50" fill="#6a5e52"/>
<rect x="585.00" y="150.30" width="8.00" height="0.60" fill="#0C7A1E"/>
<rect x="597.00" y="150.30" width="3.50" height="1.60" fill="#0C7A1E"/>
<rect x="603.00" y="150.30" width="10.00" height="0.50" fill="#0C7A1E"/>
<rect x="621.60" y="150.30" width="3.40" height="90.50" fill="#0C7A1E"/>
<rect x="625.80" y="150.30" width="4.50" height="3.00" fill="#0C7A1E"/>
<rect x="630.30" y="150.30" width="3.00" height="1.20" fill="#0C7A1E"/>
<rect x="633.00" y="150.30" width="14.00" height="0.50" fill="#0C7A1E"/>
<rect x="649.20" y="150.30" width="3.80" height="5.80" fill="#0C7A1E"/>
<rect x="646.00" y="150.30" width="3.20" height="1.50" fill="#0C7A1E"/>
<rect x="654.00" y="150.30" width="3.00" height="90.50" fill="#0C7A1E"/>
<rect x="665.00" y="150.30" width="8.00" height="0.50" fill="#0C7A1E"/>
<line x1="435.80" y1="150.30" x2="435.80" y2="240.80" stroke="#FFFFFF" stroke-width="0.8" stroke-opacity="0.8"/>
<line x1="487.40" y1="150.30" x2="487.40" y2="240.80" stroke="#FFFFFF" stroke-width="0.8" stroke-opacity="0.8"/>
<line x1="530.60" y1="150.30" x2="530.60" y2="240.80" stroke="#FFFFFF" stroke-width="0.8" stroke-opacity="0.8"/>
<line x1="570.10" y1="150.30" x2="570.10" y2="240.80" stroke="#FFFFFF" stroke-width="0.8" stroke-opacity="0.8"/>
<line x1="621.30" y1="150.30" x2="621.30" y2="240.80" stroke="#FFFFFF" stroke-width="0.8" stroke-opacity="0.8"/>
<line x1="625.30" y1="150.30" x2="625.30" y2="240.80" stroke="#FFFFFF" stroke-width="0.8" stroke-opacity="0.8"/>
<line x1="653.50" y1="150.30" x2="653.50" y2="240.80" stroke="#FFFFFF" stroke-width="0.8" stroke-opacity="0.8"/>
<line x1="657.30" y1="150.30" x2="657.30" y2="240.80" stroke="#FFFFFF" stroke-width="0.8" stroke-opacity="0.8"/>
<line x1="400.70" y1="248.50" x2="704.40" y2="248.50" stroke="#4c4c4c" stroke-width="1.25"/>
<line x1="400.80" y1="244.80" x2="400.80" y2="252.20" stroke="#4c4c4c" stroke-width="0.8"/>
<line x1="436.20" y1="244.80" x2="436.20" y2="252.20" stroke="#4c4c4c" stroke-width="0.8"/>
<line x1="487.40" y1="244.80" x2="487.40" y2="252.20" stroke="#4c4c4c" stroke-width="0.8"/>
<line x1="530.80" y1="244.80" x2="530.80" y2="252.20" stroke="#4c4c4c" stroke-width="0.8"/>
<line x1="570.20" y1="244.80" x2="570.20" y2="252.20" stroke="#4c4c4c" stroke-width="0.8"/>
<line x1="621.70" y1="244.80" x2="621.70" y2="252.20" stroke="#4c4c4c" stroke-width="0.8"/>
<line x1="624.80" y1="244.80" x2="624.80" y2="252.20" stroke="#4c4c4c" stroke-width="0.8"/>
<line x1="653.80" y1="244.80" x2="653.80" y2="252.20" stroke="#4c4c4c" stroke-width="0.8"/>
<line x1="656.80" y1="244.80" x2="656.80" y2="252.20" stroke="#4c4c4c" stroke-width="0.8"/>
<line x1="704.40" y1="244.80" x2="704.40" y2="252.20" stroke="#4c4c4c" stroke-width="0.8"/>
<g fill="#303030" fill-opacity="0.72" stroke="#303030" stroke-opacity="0.72" stroke-width="0.12">
<text transform="translate(418.30 262.60) rotate(-78)" y="2.45" font-size="6.8" text-anchor="middle">Y1</text>
<text transform="translate(462.00 262.80) rotate(-78)" y="2.45" font-size="6.8" text-anchor="middle">A1</text>
<text transform="translate(509.20 262.80) rotate(-78)" y="2.45" font-size="6.8" text-anchor="middle">A2</text>
<text transform="translate(550.60 266.40) rotate(-78)" y="2.45" font-size="6.8" text-anchor="middle">A2-BT</text>
<text transform="translate(596.10 263.10) rotate(-78)" y="2.45" font-size="6.8" text-anchor="middle">A3</text>
<text transform="translate(623.40 266.40) rotate(-78)" y="2.45" font-size="6.8" text-anchor="middle">A3-BT</text>
<text transform="translate(639.20 263.10) rotate(-78)" y="2.45" font-size="6.8" text-anchor="middle">A4</text>
<text transform="translate(654.30 266.40) rotate(-78)" y="2.45" font-size="6.8" text-anchor="middle">A4-BT</text>
<text transform="translate(681.00 263.10) rotate(-78)" y="2.45" font-size="6.8" text-anchor="middle">A5</text>
</g>
<rect x="534.00" y="304.60" width="175.00" height="2.30" fill="#E4FBE7"/>
<rect x="404.30" y="306.90" width="129.90" height="90.80" fill="#CE97C6"/>
<rect x="534.20" y="306.90" width="173.60" height="90.80" fill="#0C7A1E"/>
<rect x="418.00" y="306.90" width="8.00" height="0.40" fill="#0C7A1E"/>
<rect x="433.20" y="306.90" width="14.40" height="1.90" fill="#0C7A1E"/>
<rect x="476.00" y="306.90" width="14.00" height="0.60" fill="#0C7A1E"/>
<rect x="505.00" y="306.90" width="14.50" height="0.80" fill="#0C7A1E"/>
<rect x="549.70" y="396.70" width="13.30" height="1.00" fill="#CE97C6" fill-opacity="0.8"/>
<rect x="563.00" y="394.60" width="15.00" height="3.10" fill="#CE97C6" fill-opacity="1"/>
<rect x="605.50" y="397.10" width="15.50" height="0.60" fill="#CE97C6" fill-opacity="0.6"/>
<rect x="634.80" y="397.10" width="15.20" height="0.60" fill="#CE97C6" fill-opacity="0.6"/>
<line x1="534.30" y1="306.90" x2="534.30" y2="397.70" stroke="#D8F0D8" stroke-width="0.8" stroke-opacity="0.8"/>
<line x1="678.90" y1="306.90" x2="678.90" y2="397.70" stroke="#D8F0D8" stroke-width="0.8" stroke-opacity="0.8"/>
<line x1="693.70" y1="306.90" x2="693.70" y2="397.70" stroke="#D8F0D8" stroke-width="0.8" stroke-opacity="0.8"/>
<line x1="404.40" y1="404.60" x2="707.60" y2="404.60" stroke="#4c4c4c" stroke-width="1.25"/>
<line x1="404.50" y1="401.10" x2="404.50" y2="408.10" stroke="#4c4c4c" stroke-width="0.8"/>
<line x1="534.40" y1="401.10" x2="534.40" y2="408.10" stroke="#4c4c4c" stroke-width="0.8"/>
<line x1="678.90" y1="401.10" x2="678.90" y2="408.10" stroke="#4c4c4c" stroke-width="0.8"/>
<line x1="693.70" y1="401.10" x2="693.70" y2="408.10" stroke="#4c4c4c" stroke-width="0.8"/>
<line x1="707.50" y1="401.10" x2="707.50" y2="408.10" stroke="#4c4c4c" stroke-width="0.8"/>
<g fill="#303030" fill-opacity="0.72" stroke="#303030" stroke-opacity="0.72" stroke-width="0.12">
<text transform="translate(469.60 418.10) rotate(-76)" y="2.27" font-size="6.3" text-anchor="middle">Y1</text>
<text transform="translate(607.20 418.80) rotate(-76)" y="2.27" font-size="6.3" text-anchor="middle">A2-BT</text>
<text transform="translate(687.00 418.80) rotate(-76)" y="2.27" font-size="6.3" text-anchor="middle">A3-BT</text>
<text transform="translate(701.60 418.80) rotate(-76)" y="2.27" font-size="6.3" text-anchor="middle">A4-BT</text>
</g>
</svg>
</body>
</html>
